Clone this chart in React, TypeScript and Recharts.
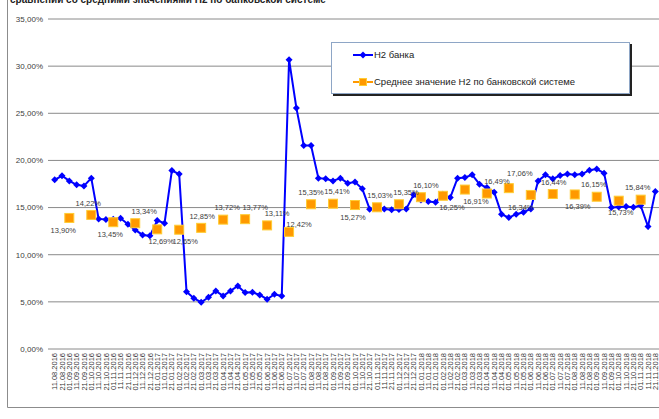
import React from 'react'
import { ComposedChart, Line, XAxis, YAxis, CartesianGrid, LabelList } from 'recharts'

const dates = [
  '11.08.2016', '21.08.2016',
  '01.09.2016', '11.09.2016', '21.09.2016',
  '01.10.2016', '11.10.2016', '21.10.2016',
  '01.11.2016', '11.11.2016', '21.11.2016',
  '01.12.2016', '11.12.2016', '21.12.2016',
  '01.01.2017', '11.01.2017', '21.01.2017',
  '01.02.2017', '11.02.2017', '21.02.2017',
  '01.03.2017', '11.03.2017', '21.03.2017',
  '01.04.2017', '11.04.2017', '21.04.2017',
  '01.05.2017', '11.05.2017', '21.05.2017',
  '01.06.2017', '11.06.2017', '21.06.2017',
  '01.07.2017', '11.07.2017', '21.07.2017',
  '01.08.2017', '11.08.2017', '21.08.2017',
  '01.09.2017', '11.09.2017', '21.09.2017',
  '01.10.2017', '11.10.2017', '21.10.2017',
  '01.11.2017', '11.11.2017', '21.11.2017',
  '01.12.2017', '11.12.2017', '21.12.2017',
  '01.01.2018', '11.01.2018', '21.01.2018',
  '01.02.2018', '11.02.2018', '21.02.2018',
  '01.03.2018', '11.03.2018', '21.03.2018',
  '01.04.2018', '11.04.2018', '21.04.2018',
  '01.05.2018', '11.05.2018', '21.05.2018',
  '01.06.2018', '11.06.2018', '21.06.2018',
  '01.07.2018', '11.07.2018', '21.07.2018',
  '01.08.2018', '11.08.2018', '21.08.2018',
  '01.09.2018', '11.09.2018', '21.09.2018',
  '01.10.2018', '11.10.2018', '21.10.2018',
  '01.11.2018', '11.11.2018', '21.11.2018',
]

// Н2 банка, по датам
const bankH2 = [
  17.94, 18.37, 17.83, 17.41, 17.3, 18.12, 13.8, 13.73, 13.75, 13.87,
  13.24, 12.63, 12.1, 12.0, 13.62, 13.34, 18.93, 18.55, 6.08, 5.38,
  4.96, 5.49, 6.16, 5.63, 6.16, 6.69, 5.98, 6.02, 5.73, 5.28,
  5.81, 5.63, 30.68, 25.55, 21.58, 21.58, 18.12, 18.05, 17.83, 18.12,
  17.59, 17.7, 16.99, 14.83, 14.94, 14.86, 14.76, 14.8, 14.86, 16.35,
  15.79, 15.64, 15.57, 16.42, 16.06, 18.12, 18.19, 18.47, 17.48, 17.12,
  16.63, 14.3, 13.94, 14.3, 14.51, 14.86, 17.83, 18.47, 18.05, 18.4,
  18.55, 18.47, 18.55, 18.97, 19.08, 18.65, 15.0, 15.07, 15.11, 15.04,
  15.21, 12.98, 16.7,
]

// среднее по системе, на первое число месяца (с 01.09.2016)
const avgH2 = [
  13.9, 14.22, 13.45, 13.34, 12.69, 12.65, 12.85, 13.72, 13.77, 13.11,
  12.42, 15.35, 15.41, 15.27, 15.03, 15.35, 16.1, 16.25, 16.91, 16.49,
  17.06, 16.34, 16.44, 16.39, 16.15, 15.73, 15.84,
]

const yTicks = [0, 5, 10, 15, 20, 25, 30, 35]

// where each average label sits: a = above, b = below, r = above-right
const labelPlace = [
  'b', 'a', 'b', 'a', 'b', 'b', 'a', 'a', 'a', 'a',
  'r', 'a', 'a', 'b', 'a', 'a', 'a', 'b', 'b', 'a',
  'a', 'b', 'a', 'b', 'a', 'b', 'a',
]
const labelDx = [-6, -3, -3, 9, 4, 6, 1, 4, 10, 10, 10, 0, 4, -2, 3, 7, 5, 9, 11, 10, 11, -10, 1, 3, -3, 2, -3]
const labelDy = [0, 0, 0, 0, 0, 0, 0, 0, 0, 0, 0, 0, 0, 0, 0, 0, 0, 0, 0, 0, -3, 0, 0, 0, 0, 0, 0]

const data = dates.map((d, i) => ({
  date: d,
  bank: bankH2[i],
  avg: i >= 2 && (i - 2) % 3 === 0 ? avgH2[(i - 2) / 3] : null,
}))

const pct = (v: number) => v.toFixed(2).replace('.', ',') + '%'

const Diamond = (props: any) => {
  const { cx, cy, index } = props
  if (cx == null || cy == null) return <g key={index} />
  return (
    <polygon
      key={index}
      points={`${cx},${cy - 3.5} ${cx + 3.5},${cy} ${cx},${cy + 3.5} ${cx - 3.5},${cy}`}
      fill="#0000ff"
    />
  )
}

const Square = (props: any) => {
  const { cx, cy, index } = props
  if (cx == null || cy == null) return <g key={index} />
  return <rect key={index} x={cx - 4.5} y={cy - 4.5} width={9} height={9} fill="#ff9900" stroke="#ffcc33" strokeWidth={1} />
}

const AvgLabel = (props: any) => {
  const { x, y, value, index } = props
  if (value == null || x == null || y == null) return null
  const k = (index - 2) / 3
  const place = labelPlace[k]
  const dy = (place === 'b' ? 12 : place === 'r' ? -8 : -12) + labelDy[k]
  return (
    <text x={x + labelDx[k]} y={y + dy + 2.7} textAnchor="middle" fontSize={7.5} fill="#404040" fontFamily="Liberation Sans, Arial, sans-serif">
      {pct(value)}
    </text>
  )
}

const DateTick = (props: any) => {
  const { x, y, payload } = props
  return (
    <g transform={`translate(${x},${y})`}>
      <text transform="rotate(-90)" textAnchor="end" dy={2.6} fontSize={7.5} fill="#333" fontFamily="Liberation Sans, Arial, sans-serif">
        {payload.value}
      </text>
    </g>
  )
}

export default function App() {
  return (
    <div style={{ position: 'absolute', left: 0, top: 0, width: 659, height: 419, background: '#fff', overflow: 'hidden' }}>
      <svg width={659} height={419} style={{ position: 'absolute', left: 0, top: 0 }}>
        <text x={10} y={3} fontSize={10} fontWeight="bold" fill="#222" fontFamily="Liberation Sans, Arial, sans-serif">
          сравнении со средними значениями Н2 по банковской системе
        </text>
        <line x1={7.5} y1={0} x2={7.5} y2={407.5} stroke="#8c8c8c" />
        <line x1={7.5} y1={407.5} x2={659} y2={407.5} stroke="#8c8c8c" />
      </svg>
      <div style={{ position: 'absolute', left: 0, top: 0 }}>
        <ComposedChart width={659} height={419} data={data} margin={{ top: 19, right: 0, bottom: 0, left: 0 }}>
          <CartesianGrid horizontal vertical={false} stroke="#8a8a8a" strokeWidth={1} />
          <XAxis
            dataKey="date"
            scale="band"
            interval={0}
            height={70}
            padding={{ left: 3 }}
            tickLine={false}
            axisLine={false}
            tickSize={4}
            tickMargin={0}
            tick={<DateTick />}
          />
          <YAxis
            width={48}
            domain={[0, 35]}
            ticks={yTicks}
            tickFormatter={pct}
            tickLine={false}
            axisLine={false}
            tickSize={5}
            tickMargin={0}
            tick={{ fontSize: 8, fill: '#404040', fontFamily: 'Liberation Sans, Arial, sans-serif' }}
          />
          <Line
            dataKey="bank"
            type="linear"
            stroke="#0000ff"
            strokeWidth={2}
            dot={Diamond}
            activeDot={false}
            isAnimationActive={false}
          />
          <Line
            dataKey="avg"
            type="linear"
            stroke="none"
            dot={Square}
            activeDot={false}
            isAnimationActive={false}
          >
            <LabelList dataKey="avg" content={AvgLabel} />
          </Line>
        </ComposedChart>
      </div>
      <div
        style={{
          position: 'absolute',
          left: 331,
          top: 42,
          width: 297,
          height: 50,
          background: '#fff',
          border: '1px solid #8ea6c6',
          boxShadow: '2px 2px 0 #222',
          fontFamily: 'Liberation Sans, Arial, sans-serif',
          fontSize: 9.5,
          color: '#222',
        }}
      >
        <svg width={297} height={50} style={{ position: 'absolute', left: 0, top: 0 }}>
          <line x1={21} y1={12} x2={41} y2={12} stroke="#0000ff" strokeWidth={2} />
          <polygon points="31,8.5 34.5,12 31,15.5 27.5,12" fill="#0000ff" />
          <line x1={21} y1={39} x2={41} y2={39} stroke="#ff9900" strokeWidth={2} />
          <rect x={27.5} y={35.5} width={7} height={7} fill="#ff9900" stroke="#ffcc33" />
          <text x={42} y={15.3} fontSize={9.5} fill="#222">Н2 банка</text>
          <text x={42} y={42.3} fontSize={9.5} fill="#222">Среднее значение Н2 по банковской системе</text>
        </svg>
      </div>
    </div>
  )
}
